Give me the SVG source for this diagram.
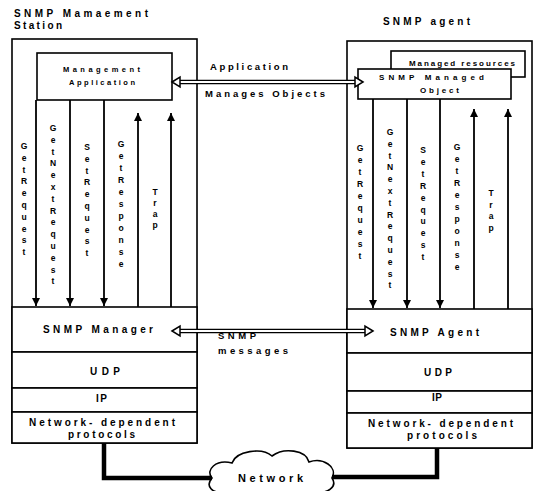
<svg xmlns="http://www.w3.org/2000/svg" width="536" height="491" viewBox="0 0 536 491">
<style>
text{font-family:"Liberation Sans",Arial,sans-serif;font-weight:bold;fill:#000}
.t10{font-size:10px}
.t9{font-size:9.5px}
.t8{font-size:8px}
.t7{font-size:7.5px}
.v{font-size:8.5px;text-anchor:middle}
.box{fill:#fff;stroke:#000;stroke-width:1.6}
.ln{stroke:#000;stroke-width:1.8;fill:none}
.thick{stroke:#000;stroke-width:4.5;fill:none}
.sh-o{stroke:#000;stroke-width:4.6}
.sh-i{stroke:#fff;stroke-width:1.8}
.hd{fill:#fff;stroke:#000;stroke-width:1.5}
</style>
<defs>
<marker id="ah" markerUnits="userSpaceOnUse" markerWidth="8" markerHeight="8" viewBox="0 0 7 7" refX="7" refY="3.5" orient="auto">
<path d="M0,0 L7,3.5 L0,7 Z" fill="#000"/>
</marker>
</defs>

<g id="manager-station">
<text class="t10" x="14" y="17" textLength="134" lengthAdjust="spacing">SNMP Mamaement</text>
<text class="t10" x="14" y="29" textLength="48" lengthAdjust="spacing">Station</text>
<rect class="box" x="12" y="39" width="185" height="404"/>
</g>

<g id="management-application">
<rect class="box" x="37" y="53" width="135" height="47"/>
<text class="t7" x="63" y="72" textLength="77" lengthAdjust="spacing">Management</text>
<text class="t7" x="69" y="85" textLength="66" lengthAdjust="spacing">Application</text>
</g>

<g id="manager-stack">
<rect class="box" x="12" y="307" width="185" height="45"/>
<text class="t10" x="43" y="333" textLength="110" lengthAdjust="spacing">SNMP Manager</text>
<rect class="box" x="12" y="352" width="185" height="36"/>
<text class="t10" x="90" y="375" textLength="30" lengthAdjust="spacing">UDP</text>
<rect class="box" x="12" y="388" width="185" height="24"/>
<text class="t10" x="96" y="402" textLength="11" lengthAdjust="spacing">IP</text>
<rect class="box" x="12" y="412" width="185" height="31"/>
<text class="t10" x="29" y="426" textLength="146" lengthAdjust="spacing">Network- dependent</text>
<text class="t10" x="68" y="438" textLength="67" lengthAdjust="spacing">protocols</text>
</g>

<g id="agent-station">
<text class="t10" x="383" y="25" textLength="87" lengthAdjust="spacing">SNMP agent</text>
<rect class="box" x="347" y="41" width="185" height="407"/>
</g>

<g id="managed-resources">
<rect class="box" x="391" y="51" width="134" height="26"/>
<text class="t8" x="409" y="66" textLength="106" lengthAdjust="spacing">Managed resources</text>
</g>

<g id="snmp-managed-object">
<rect class="box" x="358" y="69" width="153" height="30"/>
<text class="t8" x="379" y="80" textLength="105" lengthAdjust="spacing">SNMP Managed</text>
<text class="t8" x="420" y="93" textLength="39" lengthAdjust="spacing">Object</text>
</g>

<g id="agent-stack">
<rect class="box" x="347" y="309" width="185" height="44"/>
<text class="t10" x="390" y="336" textLength="89" lengthAdjust="spacing">SNMP Agent</text>
<rect class="box" x="347" y="353" width="185" height="38"/>
<text class="t10" x="424" y="376" textLength="28" lengthAdjust="spacing">UDP</text>
<rect class="box" x="347" y="391" width="185" height="22"/>
<text class="t10" x="432" y="401" textLength="10" lengthAdjust="spacing">IP</text>
<rect class="box" x="347" y="413" width="185" height="35"/>
<text class="t10" x="368" y="427" textLength="145" lengthAdjust="spacing">Network- dependent</text>
<text class="t10" x="407" y="439" textLength="70" lengthAdjust="spacing">protocols</text>
</g>

<g id="network">
<path d="M212,478 C205,470 216,459 232,463 C236,451 262,447 272,456 C284,447 306,450 309,462 C323,457 338,467 332,478 C338,487 327,494 315,492 L225,492 C212,494 205,486 212,478 Z" fill="#fff" stroke="#000" stroke-width="1.6"/>
<text x="238" y="482" style="font-size:11px" textLength="65" lengthAdjust="spacing">Network</text>
</g>

<g id="connectors">
<line class="ln" x1="36" y1="100" x2="36" y2="306" marker-end="url(#ah)"/>
<line class="ln" x1="70" y1="100" x2="70" y2="306" marker-end="url(#ah)"/>
<line class="ln" x1="104" y1="100" x2="104" y2="306" marker-end="url(#ah)"/>
<line class="ln" x1="138" y1="307" x2="138" y2="113" marker-end="url(#ah)"/>
<line class="ln" x1="171" y1="307" x2="171" y2="113" marker-end="url(#ah)"/>
<line class="ln" x1="373" y1="99" x2="373" y2="308" marker-end="url(#ah)"/>
<line class="ln" x1="407" y1="99" x2="407" y2="308" marker-end="url(#ah)"/>
<line class="ln" x1="440" y1="99" x2="440" y2="308" marker-end="url(#ah)"/>
<line class="ln" x1="474" y1="309" x2="474" y2="109" marker-end="url(#ah)"/>
<line class="ln" x1="508" y1="309" x2="508" y2="109" marker-end="url(#ah)"/>

<text class="v" x="24" y="149"><tspan x="24">G</tspan><tspan x="24" dy="11.8">e</tspan><tspan x="24" dy="11.8">t</tspan><tspan x="24" dy="11.8">R</tspan><tspan x="24" dy="11.8">e</tspan><tspan x="24" dy="11.8">q</tspan><tspan x="24" dy="11.8">u</tspan><tspan x="24" dy="11.8">e</tspan><tspan x="24" dy="11.8">s</tspan><tspan x="24" dy="11.8">t</tspan></text>
<text class="v" x="53" y="131"><tspan x="53">G</tspan><tspan x="53" dy="11.8">e</tspan><tspan x="53" dy="11.8">t</tspan><tspan x="53" dy="11.8">N</tspan><tspan x="53" dy="11.8">e</tspan><tspan x="53" dy="11.8">x</tspan><tspan x="53" dy="11.8">t</tspan><tspan x="53" dy="11.8">R</tspan><tspan x="53" dy="11.8">e</tspan><tspan x="53" dy="11.8">q</tspan><tspan x="53" dy="11.8">u</tspan><tspan x="53" dy="11.8">e</tspan><tspan x="53" dy="11.8">s</tspan><tspan x="53" dy="11.8">t</tspan></text>
<text class="v" x="87" y="150"><tspan x="87">S</tspan><tspan x="87" dy="11.8">e</tspan><tspan x="87" dy="11.8">t</tspan><tspan x="87" dy="11.8">R</tspan><tspan x="87" dy="11.8">e</tspan><tspan x="87" dy="11.8">q</tspan><tspan x="87" dy="11.8">u</tspan><tspan x="87" dy="11.8">e</tspan><tspan x="87" dy="11.8">s</tspan><tspan x="87" dy="11.8">t</tspan></text>
<text class="v" x="121" y="147"><tspan x="121">G</tspan><tspan x="121" dy="12">e</tspan><tspan x="121" dy="12">t</tspan><tspan x="121" dy="12">R</tspan><tspan x="121" dy="12">e</tspan><tspan x="121" dy="12">s</tspan><tspan x="121" dy="12">p</tspan><tspan x="121" dy="12">o</tspan><tspan x="121" dy="12">n</tspan><tspan x="121" dy="12">s</tspan><tspan x="121" dy="12">e</tspan></text>
<text class="v" x="155" y="195"><tspan x="155">T</tspan><tspan x="155" dy="11">r</tspan><tspan x="155" dy="11">a</tspan><tspan x="155" dy="11">p</tspan></text>

<text class="v" x="360" y="151"><tspan x="360">G</tspan><tspan x="360" dy="12">e</tspan><tspan x="360" dy="12">t</tspan><tspan x="360" dy="12">R</tspan><tspan x="360" dy="12">e</tspan><tspan x="360" dy="12">q</tspan><tspan x="360" dy="12">u</tspan><tspan x="360" dy="12">e</tspan><tspan x="360" dy="12">s</tspan><tspan x="360" dy="12">t</tspan></text>
<text class="v" x="390" y="135"><tspan x="390">G</tspan><tspan x="390" dy="11.8">e</tspan><tspan x="390" dy="11.8">t</tspan><tspan x="390" dy="11.8">N</tspan><tspan x="390" dy="11.8">e</tspan><tspan x="390" dy="11.8">x</tspan><tspan x="390" dy="11.8">t</tspan><tspan x="390" dy="11.8">R</tspan><tspan x="390" dy="11.8">e</tspan><tspan x="390" dy="11.8">q</tspan><tspan x="390" dy="11.8">u</tspan><tspan x="390" dy="11.8">e</tspan><tspan x="390" dy="11.8">s</tspan><tspan x="390" dy="11.8">t</tspan></text>
<text class="v" x="423" y="153"><tspan x="423">S</tspan><tspan x="423" dy="11.9">e</tspan><tspan x="423" dy="11.9">t</tspan><tspan x="423" dy="11.9">R</tspan><tspan x="423" dy="11.9">e</tspan><tspan x="423" dy="11.9">q</tspan><tspan x="423" dy="11.9">u</tspan><tspan x="423" dy="11.9">e</tspan><tspan x="423" dy="11.9">s</tspan><tspan x="423" dy="11.9">t</tspan></text>
<text class="v" x="457" y="150"><tspan x="457">G</tspan><tspan x="457" dy="12">e</tspan><tspan x="457" dy="12">t</tspan><tspan x="457" dy="12">R</tspan><tspan x="457" dy="12">e</tspan><tspan x="457" dy="12">s</tspan><tspan x="457" dy="12">p</tspan><tspan x="457" dy="12">o</tspan><tspan x="457" dy="12">n</tspan><tspan x="457" dy="12">s</tspan><tspan x="457" dy="12">e</tspan></text>
<text class="v" x="491" y="196"><tspan x="491">T</tspan><tspan x="491" dy="11.5">r</tspan><tspan x="491" dy="11.5">a</tspan><tspan x="491" dy="11.5">p</tspan></text>

<text class="t9" x="210" y="70" textLength="78" lengthAdjust="spacing">Application</text>
<text class="t9" x="205" y="97" textLength="120" lengthAdjust="spacing">Manages Objects</text>
<line class="sh-o" x1="179" y1="82" x2="356" y2="82"/>
<line class="sh-i" x1="179" y1="82" x2="356" y2="82"/>
<path class="hd" d="M172,82 L180,77 L180,87 Z"/>
<path class="hd" d="M363,82 L355,77 L355,87 Z"/>

<text class="t9" x="218" y="339" textLength="38" lengthAdjust="spacing">SNMP</text>
<text class="t9" x="218" y="354" textLength="70" lengthAdjust="spacing">messages</text>
<line class="sh-o" x1="179" y1="331" x2="366" y2="331"/>
<line class="sh-i" x1="179" y1="331" x2="366" y2="331"/>
<path class="hd" d="M172,331 L180,326 L180,336 Z"/>
<path class="hd" d="M373,331 L365,326 L365,336 Z"/>

<polyline class="thick" points="104,443 104,478 212,478"/>
<polyline class="thick" points="437,448 437,477 332,477"/>
</g>
</svg>
